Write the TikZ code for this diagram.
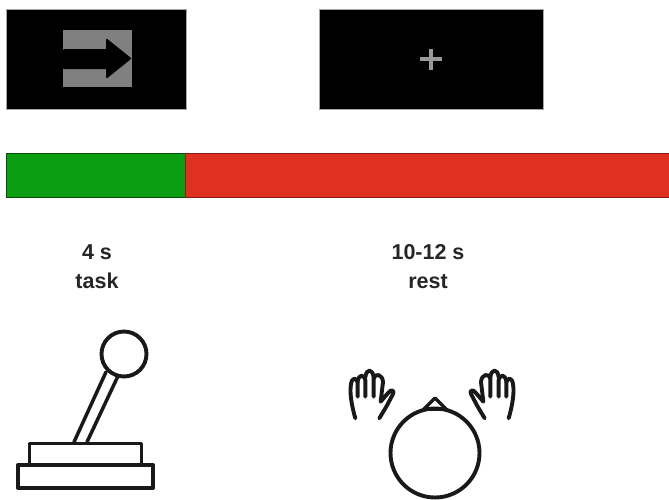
\documentclass[tikz,border=0pt]{standalone}
\usepackage{fontspec}
\setmainfont{Liberation Sans}
\definecolor{barred}{RGB}{224,48,32}
\definecolor{bargreen}{RGB}{12,158,18}
\tikzset{
  screen/.style={fill=black,draw=black!35,line width=0.6pt},
  icon/.style={draw=black!90,line width=3.9pt,line join=round,line cap=round},
  iconthin/.style={draw=black!90,line width=3.5pt,line join=round,line cap=round},
  handline/.style={draw=black!90,line width=3.9pt,line join=round,line cap=round},
  lbl/.style={font=\bfseries\fontsize{21.5}{28.5}\selectfont,align=center,text=black!85,inner sep=0pt},
}
\begin{document}
\begin{tikzpicture}[x=1pt,y=-1pt]
\useasboundingbox (0,0) rectangle (669,499);
\fill[white] (0,0) rectangle (669,499);
% screens
\draw[screen] (6,9) rectangle (186,109);
\fill[black!50] (63,30) rectangle (132,87);
\filldraw[black,line width=2pt,line join=round] (64,50) -- (107,50) -- (107,40) -- (130,58.5) -- (107,77) -- (107,68) -- (64,68) -- cycle;
\draw[screen] (319,9) rectangle (543,109);
\fill[black!40] (419.5,57) rectangle (441.5,61);
\fill[black!40] (428.5,48.5) rectangle (432.5,69.5);
% bar
\draw[draw=black!50!bargreen,fill=bargreen] (6.5,153.5) rectangle (185,197.5);
\draw[draw=barred!60!black,fill=barred] (185,153.5) rectangle (670,197.5);
% labels
\node[lbl] (t1) at (97,266.5) {4 s\\task};
\node[lbl] (t2) at (428,266.5) {10-12 s\\rest};
% joystick
\draw[icon] (124,354) circle (22.5);
\draw[iconthin] (74,442) -- (106,372);
\draw[iconthin] (87,442) -- (118,376);
\draw[icon] (29.5,443.5) rectangle (141.5,465);
\draw[icon] (18,465) rectangle (153,488);
% head
\draw[icon] (435,453) circle (44.5);
\draw[iconthin] (423,410) -- (435,398) -- (447,410);
\draw[iconthin] (424,409.5) -- (446,409.5);
% hands
\foreach \mir/\nm in {1/l,-1/r}{
\begin{scope}[shift={(432,0)},xscale=\mir,shift={(-432,0)},shift={(340,360)},x=0.3333pt,y=-0.3333pt]
\draw[handline] (46,175) .. controls (36,140) and (28,100) .. (33,72) .. controls (36,52) and (50,50) .. (53,70) -- (53,110);
\draw[handline] (53,66) .. controls (55,42) and (72,42) .. (76,60) -- (76,110);
\draw[handline] (76,52) .. controls (79,24) and (98,26) .. (101,52) -- (101,110);
\draw[handline] (101,56) .. controls (104,38) and (128,42) .. (129,66) -- (122,125) -- (146,97) .. controls (154,86) and (166,92) .. (158,104) -- (140,138) -- (118,175);
\end{scope}}
\end{tikzpicture}
\end{document}
